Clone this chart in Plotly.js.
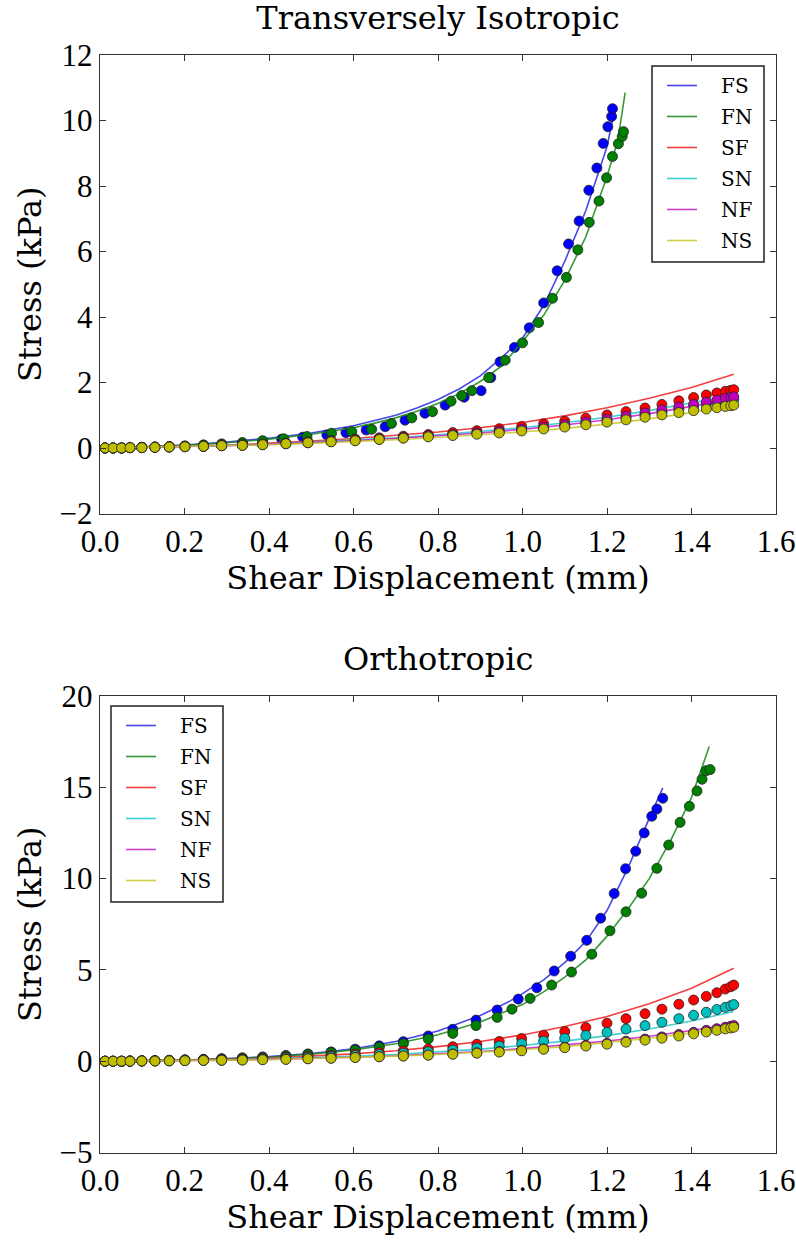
<!DOCTYPE html>
<html>
<head>
<meta charset="utf-8">
<script src="https://cdn.plot.ly/plotly-3.0.1.min.js"></script>
<style>html,body{margin:0;padding:0;background:#fff;}#chart{width:796px;height:1244px;}</style>
</head>
<body>
<div id="chart"></div>
<script>
// ---------- data: Transversely Isotropic (top) ----------
const seriesNames = ['FS','FN','SF','SN','NF','NS'];
const xTicks = [0,0.2,0.4,0.6,0.8,1.0,1.2,1.4,1.6];

const ti_FS_x = [0.012,0.031,0.051,0.071,0.099,0.130,0.164,0.201,0.245,0.288,0.337,0.385,0.430,0.480,0.537,0.582,0.630,0.675,0.722,0.769,0.817,0.862,0.902,0.925,0.947,0.981,1.016,1.050,1.082,1.109,1.134,1.157,1.176,1.191,1.202,1.211,1.213];
const ti_FS_y = [0.00,0.00,0.00,0.01,0.02,0.03,0.04,0.06,0.09,0.12,0.16,0.21,0.27,0.33,0.40,0.47,0.55,0.65,0.85,1.06,1.31,1.55,1.75,2.15,2.63,3.07,3.67,4.43,5.41,6.23,6.93,7.87,8.55,9.30,9.81,10.12,10.36];
const ti_FN_x = [0.012,0.031,0.051,0.071,0.099,0.130,0.164,0.201,0.245,0.288,0.337,0.385,0.435,0.490,0.548,0.596,0.643,0.690,0.738,0.787,0.831,0.856,0.880,0.920,0.959,1.000,1.038,1.071,1.104,1.131,1.158,1.181,1.199,1.213,1.227,1.236,1.239];
const ti_FN_y = [0.00,0.00,0.00,0.01,0.02,0.03,0.04,0.06,0.09,0.12,0.16,0.22,0.28,0.35,0.45,0.50,0.57,0.75,0.92,1.11,1.43,1.60,1.75,2.15,2.68,3.21,3.83,4.57,5.21,6.05,6.89,7.54,8.25,8.90,9.29,9.51,9.66];
const ti_low_x = [0.012,0.031,0.051,0.071,0.099,0.130,0.164,0.201,0.245,0.288,0.337,0.385,0.440,0.492,0.547,0.604,0.661,0.718,0.777,0.835,0.892,0.945,0.998,1.050,1.100,1.150,1.200,1.245,1.290,1.330,1.370,1.405,1.435,1.460,1.480,1.493,1.500];
const ti_SF_y = [0.00,0.00,0.00,0.01,0.02,0.03,0.04,0.05,0.06,0.08,0.10,0.12,0.15,0.19,0.23,0.27,0.31,0.36,0.41,0.47,0.53,0.59,0.66,0.74,0.82,0.91,1.01,1.11,1.22,1.33,1.44,1.54,1.62,1.68,1.73,1.76,1.78];
const ti_SN_y = [0.00,0.00,0.00,0.01,0.01,0.02,0.03,0.04,0.05,0.07,0.08,0.10,0.13,0.16,0.20,0.23,0.27,0.31,0.36,0.40,0.45,0.49,0.55,0.61,0.68,0.76,0.84,0.93,1.02,1.10,1.19,1.27,1.33,1.38,1.42,1.45,1.47];
const ti_NF_y = [0.00,0.00,0.00,0.01,0.01,0.02,0.03,0.04,0.05,0.07,0.09,0.11,0.14,0.17,0.20,0.24,0.28,0.32,0.37,0.41,0.46,0.51,0.57,0.64,0.71,0.79,0.88,0.97,1.07,1.16,1.25,1.33,1.40,1.46,1.51,1.54,1.56];
const ti_NS_y = [0.00,0.00,0.00,0.01,0.01,0.02,0.03,0.04,0.05,0.07,0.08,0.10,0.13,0.16,0.19,0.22,0.26,0.30,0.34,0.38,0.42,0.46,0.52,0.58,0.64,0.71,0.79,0.86,0.94,1.01,1.08,1.14,1.19,1.23,1.27,1.29,1.31];

const ti_FS_fit_x = [0,0.1,0.2,0.3,0.4,0.5,0.6,0.65,0.7,0.75,0.8,0.85,0.9,0.95,1.0,1.05,1.1,1.15,1.2,1.22];
const ti_FS_fit_y = [0,0.03,0.09,0.18,0.30,0.46,0.68,0.83,1.00,1.22,1.48,1.80,2.20,2.75,3.35,4.35,5.70,7.25,9.20,10.45];
const ti_FN_fit_x = [0,0.1,0.2,0.3,0.4,0.5,0.6,0.65,0.7,0.75,0.8,0.85,0.9,0.95,1.0,1.05,1.1,1.15,1.2,1.225,1.243];
const ti_FN_fit_y = [0,0.03,0.08,0.16,0.27,0.42,0.62,0.76,0.92,1.12,1.36,1.66,2.03,2.50,3.25,4.05,5.12,6.45,8.30,9.35,10.85];
const ti_low_fit_x = [0,0.1,0.2,0.3,0.4,0.5,0.6,0.7,0.8,0.9,1.0,1.1,1.2,1.3,1.4,1.5];
const ti_SF_fit_y = [0,0.02,0.05,0.09,0.14,0.21,0.29,0.38,0.49,0.62,0.78,0.98,1.23,1.52,1.85,2.25];
const ti_SN_fit_y = [0,0.02,0.04,0.08,0.12,0.18,0.24,0.31,0.40,0.50,0.62,0.77,0.94,1.14,1.37,1.62];
const ti_NF_fit_y = [0,0.02,0.04,0.07,0.11,0.16,0.22,0.29,0.37,0.46,0.57,0.70,0.86,1.05,1.27,1.52];
const ti_NS_fit_y = [0,0.02,0.04,0.06,0.10,0.14,0.19,0.25,0.32,0.40,0.49,0.60,0.73,0.89,1.08,1.32];

// ---------- data: Orthotropic (bottom) ----------
const or_FS_x = [0.012,0.031,0.051,0.071,0.099,0.130,0.164,0.201,0.245,0.288,0.337,0.385,0.440,0.492,0.547,0.604,0.661,0.718,0.777,0.835,0.890,0.940,0.990,1.034,1.075,1.114,1.152,1.185,1.217,1.244,1.268,1.288,1.306,1.318,1.332];
const or_FS_y = [0.00,0.00,0.00,0.01,0.02,0.03,0.05,0.07,0.10,0.13,0.18,0.23,0.31,0.40,0.51,0.66,0.84,1.07,1.38,1.75,2.25,2.80,3.40,4.02,4.94,5.75,6.62,7.83,9.18,10.54,11.50,12.50,13.41,13.81,14.40];
const or_FN_x = [0.012,0.031,0.051,0.071,0.099,0.130,0.164,0.201,0.245,0.288,0.337,0.385,0.440,0.492,0.547,0.604,0.661,0.718,0.777,0.835,0.890,0.940,0.975,1.018,1.069,1.116,1.164,1.207,1.245,1.282,1.318,1.346,1.373,1.395,1.413,1.425,1.434,1.444];
const or_FN_y = [0.00,0.00,0.00,0.01,0.02,0.03,0.05,0.07,0.10,0.13,0.17,0.22,0.29,0.37,0.47,0.60,0.76,0.96,1.22,1.52,1.95,2.40,2.85,3.44,4.17,4.88,5.86,7.14,8.18,9.20,10.56,11.84,13.08,13.96,14.80,15.44,15.90,15.97];
const or_low_x = [0.012,0.031,0.051,0.071,0.099,0.130,0.164,0.201,0.245,0.288,0.337,0.385,0.440,0.492,0.547,0.604,0.661,0.718,0.777,0.835,0.892,0.945,0.998,1.050,1.100,1.150,1.200,1.245,1.290,1.330,1.370,1.405,1.435,1.460,1.480,1.493,1.500];
const or_SF_y = [0.00,0.00,0.00,0.01,0.02,0.03,0.04,0.06,0.08,0.10,0.13,0.16,0.21,0.26,0.32,0.39,0.47,0.56,0.67,0.79,0.93,1.08,1.24,1.42,1.62,1.84,2.08,2.33,2.60,2.85,3.12,3.35,3.55,3.75,3.95,4.08,4.17];
const or_SN_y = [0.00,0.00,0.00,0.01,0.01,0.02,0.03,0.05,0.06,0.08,0.10,0.13,0.17,0.21,0.26,0.31,0.37,0.44,0.52,0.61,0.72,0.83,0.96,1.10,1.25,1.41,1.58,1.76,1.95,2.13,2.33,2.52,2.68,2.83,2.95,3.04,3.10];
const or_NF_y = [0.00,0.00,0.00,0.00,0.01,0.01,0.02,0.03,0.04,0.05,0.07,0.09,0.11,0.14,0.17,0.21,0.25,0.29,0.34,0.40,0.46,0.53,0.60,0.68,0.77,0.87,0.98,1.09,1.21,1.33,1.46,1.58,1.69,1.78,1.86,1.91,1.95];
const or_NS_y = [0.00,0.00,0.00,0.00,0.01,0.01,0.02,0.03,0.04,0.05,0.06,0.08,0.10,0.13,0.16,0.20,0.24,0.28,0.33,0.38,0.44,0.50,0.57,0.65,0.74,0.83,0.93,1.04,1.15,1.26,1.38,1.50,1.60,1.69,1.77,1.82,1.86];

const or_FS_fit_x = [0,0.1,0.2,0.3,0.4,0.5,0.6,0.7,0.8,0.9,0.97,1.0,1.05,1.1,1.15,1.2,1.25,1.3,1.332];
const or_FS_fit_y = [0,0.02,0.06,0.14,0.25,0.42,0.68,1.08,1.65,2.50,3.29,3.70,4.45,5.40,6.55,8.25,10.60,13.30,14.97];
const or_FN_fit_x = [0,0.1,0.2,0.3,0.4,0.5,0.6,0.7,0.8,0.9,1.0,1.05,1.1,1.15,1.2,1.25,1.3,1.35,1.4,1.442];
const or_FN_fit_y = [0,0.02,0.06,0.13,0.23,0.39,0.62,0.96,1.45,2.15,3.10,3.80,4.60,5.55,6.85,8.35,10.00,12.05,14.45,17.23];
const or_low_fit_x = [0,0.1,0.2,0.3,0.4,0.5,0.6,0.7,0.8,0.9,1.0,1.1,1.2,1.3,1.4,1.5];
const or_SF_fit_y = [0,0.02,0.05,0.10,0.17,0.27,0.40,0.57,0.80,1.08,1.44,1.90,2.45,3.15,4.00,5.09];
const or_SN_fit_y = [0,0.02,0.04,0.08,0.13,0.19,0.27,0.37,0.50,0.66,0.86,1.10,1.40,1.76,2.20,2.72];
const or_NF_fit_y = [0,0.01,0.03,0.06,0.10,0.15,0.22,0.30,0.40,0.53,0.69,0.88,1.10,1.37,1.68,2.05];
const or_NS_fit_y = [0,0.01,0.03,0.06,0.09,0.14,0.20,0.28,0.37,0.49,0.63,0.80,1.01,1.26,1.55,1.90];

// ---------- styling ----------
const markerColors = {FS:'#0000ff',FN:'#008000',SF:'#ff0000',SN:'#00bfbf',NF:'#bf00bf',NS:'#bfbf00'};
const lineColors = {FS:'rgba(40,40,230,0.85)',FN:'rgba(20,135,20,0.85)',SF:'rgba(240,30,30,0.85)',SN:'rgba(30,200,200,0.85)',NF:'rgba(200,30,200,0.85)',NS:'rgba(200,200,40,0.85)'};

const serif = '"DejaVu Serif", "Liberation Serif", serif';
const tickFont = {family: '"Liberation Serif", "DejaVu Serif", serif', size: 31, color: '#000'};
const labelFont = {family: serif, size: 32, color: '#000'};
const legendFont = {family: serif, size: 20, color: '#000'};
const PAD = '\u00a0\u00a0\u00a0';

const ti = {
  FS: {dx: ti_FS_x, dy: ti_FS_y, fx: ti_FS_fit_x, fy: ti_FS_fit_y},
  FN: {dx: ti_FN_x, dy: ti_FN_y, fx: ti_FN_fit_x, fy: ti_FN_fit_y},
  SF: {dx: ti_low_x, dy: ti_SF_y, fx: ti_low_fit_x, fy: ti_SF_fit_y},
  SN: {dx: ti_low_x, dy: ti_SN_y, fx: ti_low_fit_x, fy: ti_SN_fit_y},
  NF: {dx: ti_low_x, dy: ti_NF_y, fx: ti_low_fit_x, fy: ti_NF_fit_y},
  NS: {dx: ti_low_x, dy: ti_NS_y, fx: ti_low_fit_x, fy: ti_NS_fit_y}
};
const or = {
  FS: {dx: or_FS_x, dy: or_FS_y, fx: or_FS_fit_x, fy: or_FS_fit_y},
  FN: {dx: or_FN_x, dy: or_FN_y, fx: or_FN_fit_x, fy: or_FN_fit_y},
  SF: {dx: or_low_x, dy: or_SF_y, fx: or_low_fit_x, fy: or_SF_fit_y},
  SN: {dx: or_low_x, dy: or_SN_y, fx: or_low_fit_x, fy: or_SN_fit_y},
  NF: {dx: or_low_x, dy: or_NF_y, fx: or_low_fit_x, fy: or_NF_fit_y},
  NS: {dx: or_low_x, dy: or_NS_y, fx: or_low_fit_x, fy: or_NS_fit_y}
};

const traces = [];
function addPanel(panel, xa, ya, legendName) {
  seriesNames.forEach(function(n) {
    const s = panel[n];
    traces.push({
      type: 'scatter', mode: 'lines', x: s.fx, y: s.fy, name: PAD + n,
      xaxis: xa, yaxis: ya, legend: legendName, legendgroup: legendName + n,
      line: {color: lineColors[n], width: 1.6}, hoverinfo: 'skip'
    });
    traces.push({
      type: 'scatter', mode: 'markers', x: s.dx, y: s.dy, name: n,
      xaxis: xa, yaxis: ya, showlegend: false, legend: legendName,
      marker: {color: markerColors[n], size: 10, line: {color: '#222', width: 0.8}},
      hoverinfo: 'skip'
    });
  });
}
addPanel(ti, 'x', 'y', 'legend');
addPanel(or, 'x2', 'y2', 'legend2');

function xAxis(anchor) {
  return {
    anchor: anchor, domain: [0, 1], range: [0, 1.6], tickvals: xTicks,
    ticktext: xTicks.map(function(v){ return v.toFixed(1); }),
    ticks: 'inside', ticklen: 6, tickwidth: 1, tickcolor: '#333',
    showline: true, linecolor: '#333', linewidth: 1.3, mirror: 'ticks',
    showgrid: false, zeroline: false, tickfont: tickFont,
    title: {text: 'Shear Displacement (mm)', font: labelFont, standoff: 6}
  };
}
function yAxis(anchor, domain, range, dtick) {
  return {
    anchor: anchor, domain: domain, range: range, dtick: dtick, tick0: 0,
    ticks: 'inside', ticklen: 6, tickwidth: 1, tickcolor: '#333',
    showline: true, linecolor: '#333', linewidth: 1.3, mirror: 'ticks',
    showgrid: false, zeroline: false, tickfont: tickFont,
    title: {text: 'Stress (kPa)', font: labelFont, standoff: 8}
  };
}

const H = 1244, PL = 100, PW = 676;
function px(x) { return (x - PL) / PW; }
function py(y) { return 1 - y / H; }
function legendBox(x0, y0, x1, y1) {
  return {type: 'rect', xref: 'paper', yref: 'paper', x0: px(x0), x1: px(x1), y0: py(y1), y1: py(y0),
          line: {color: '#222', width: 1.5}, fillcolor: '#fff', layer: 'above'};
}
function legendCfg(x0, y0) {
  return {x: px(x0 + 10), xanchor: 'left', y: py(y0), yanchor: 'top',
          bgcolor: 'rgba(0,0,0,0)', borderwidth: 0,
          font: legendFont, tracegroupgap: 2, traceorder: 'grouped'};
}

const layout = {
  width: 796, height: H,
  margin: {l: PL, r: 20, t: 0, b: 0},
  paper_bgcolor: '#fff', plot_bgcolor: '#fff',
  showlegend: true,
  title: {text: 'Transversely Isotropic', font: labelFont,
          x: 0.5, xref: 'paper', xanchor: 'center', y: 1 - 18 / H, yref: 'container', yanchor: 'middle'},
  xaxis: xAxis('y'),
  yaxis: yAxis('x', [py(513.5), py(55)], [-2, 12], 2),
  xaxis2: xAxis('y2'),
  yaxis2: yAxis('x2', [py(1152.5), py(696)], [-5, 20], 5),
  legend: legendCfg(652, 66),
  legend2: legendCfg(111, 706),
  shapes: [legendBox(652, 66, 764, 262), legendBox(111, 706, 223, 902)],
  annotations: [{
    text: 'Orthotropic', showarrow: false, xref: 'paper', yref: 'paper',
    x: 0.5, y: py(659), xanchor: 'center', yanchor: 'middle', font: labelFont
  }]
};

Plotly.newPlot('chart', traces, layout, {staticPlot: true, displayModeBar: false});
</script>
</body>
</html>
